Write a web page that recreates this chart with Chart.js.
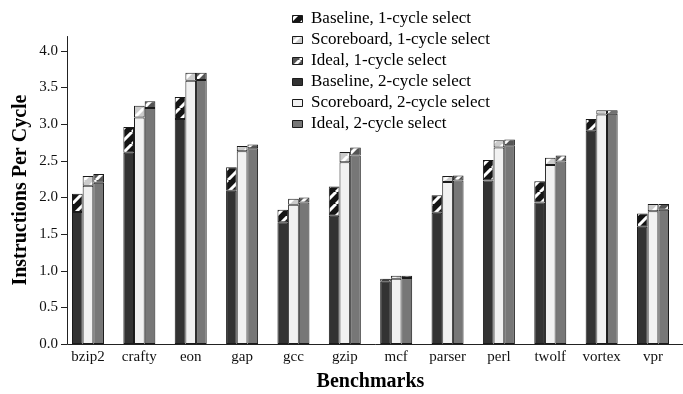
<!DOCTYPE html>
<html><head><meta charset="utf-8">
<script src="https://cdn.jsdelivr.net/npm/chart.js@4.4.0/dist/chart.umd.min.js"></script>
<style>html,body{margin:0;padding:0;background:#fff;} #wrap{width:683px;height:394px;position:relative}</style>
</head><body><div id="wrap"><canvas id="c" width="683" height="394"></canvas></div>
<script>
const benchmarks = ['bzip2','crafty','eon','gap','gcc','gzip','mcf','parser','perl','twolf','vortex','vpr'];
const baseline2   = [1.80,2.61,3.07,2.09,1.66,1.75,0.85,1.79,2.23,1.93,2.91,1.60];
const baseline1   = [2.05,2.96,3.37,2.41,1.83,2.15,0.89,2.03,2.51,2.22,3.07,1.78];
const scoreboard2 = [2.16,3.09,3.59,2.63,1.90,2.48,0.89,2.21,2.68,2.44,3.13,1.81];
const scoreboard1 = [2.29,3.25,3.70,2.70,1.98,2.62,0.93,2.29,2.78,2.54,3.19,1.91];
const ideal2      = [2.20,3.22,3.60,2.67,1.93,2.57,0.90,2.23,2.71,2.49,3.14,1.83];
const ideal1      = [2.32,3.31,3.70,2.72,2.00,2.68,0.93,2.30,2.79,2.57,3.19,1.91];
const yTicks = [0,0.5,1,1.5,2,2.5,3,3.5,4];

function hatch(color){
  const s = 12;
  const c = document.createElement('canvas'); c.width = s; c.height = s;
  const g = c.getContext('2d');
  g.fillStyle = color; g.fillRect(0,0,s,s);
  g.strokeStyle = '#ffffff'; g.lineWidth = 3;
  g.beginPath();
  for (const off of [-s,0,s]) { g.moveTo(off, s); g.lineTo(off + s, 0); }
  g.stroke();
  return g.createPattern(c,'repeat');
}
const diff = (top, bot) => top.map((v,i) => +(v - bot[i]).toFixed(3));
const serif = 'Liberation Serif, Times New Roman, serif';
const common = {borderColor:'#1a1a1a', borderWidth:1, borderSkipped:false, barPercentage:1, categoryPercentage:0.623};

const datasets = [
  {label:'Baseline, 2-cycle select',   data: baseline2, backgroundColor:'#333333', stack:'B', ...common},
  {label:'Baseline, 1-cycle select',   data: diff(baseline1, baseline2), backgroundColor: hatch('#141414'), stack:'B', ...common},
  {label:'Scoreboard, 2-cycle select', data: scoreboard2, backgroundColor:'#f1f1f1', stack:'S', ...common},
  {label:'Scoreboard, 1-cycle select', data: diff(scoreboard1, scoreboard2), backgroundColor: hatch('#cccccc'), stack:'S', ...common},
  {label:'Ideal, 2-cycle select',      data: ideal2, backgroundColor:'#777777', stack:'I', ...common},
  {label:'Ideal, 1-cycle select',      data: diff(ideal1, ideal2), backgroundColor: hatch('#555555'), stack:'I', ...common}
];
const legendRank = [3,0,4,1,5,2];

const axisPlugin = {
  id:'axisPlugin',
  afterLayout(chart){
    const lg = chart.legend;
    lg.left = 288.5; lg.right = 560; lg.top = 6.5; lg.bottom = 220;
  },
  afterDraw(chart){
    const ctx = chart.ctx, y = chart.scales.y, a = chart.chartArea;
    const ax = 67.5, by = Math.round(y.getPixelForValue(0)) + 0.5;
    ctx.save();
    ctx.strokeStyle = '#222'; ctx.lineWidth = 1;
    ctx.beginPath();
    ctx.moveTo(ax, a.top); ctx.lineTo(ax, by);
    ctx.moveTo(ax, by); ctx.lineTo(683, by);
    for (const v of yTicks) {
      const py = Math.round(y.getPixelForValue(v)) + 0.5;
      ctx.moveTo(61, py); ctx.lineTo(ax, py);
    }
    ctx.stroke();
    ctx.restore();
  }
};

new Chart(document.getElementById('c'), {
  type:'bar',
  data:{labels: benchmarks, datasets},
  plugins:[axisPlugin],
  options:{
    responsive:false, animation:false,
    layout:{padding:{top:36.1, right:4.3, left:0, bottom:0}},
    plugins:{
      legend:{position:'chartArea', align:'start',
        labels:{font:{family:serif, size:17}, color:'#000', boxWidth:10, boxHeight:7, padding:4,
          sort:(a,b) => legendRank[a.datasetIndex] - legendRank[b.datasetIndex]}},
      tooltip:{enabled:false}
    },
    scales:{
      x:{stacked:true, grid:{display:false, drawTicks:false}, border:{display:false},
         ticks:{font:{family:serif, size:15}, color:'#111', padding:4, maxRotation:0, autoSkip:false},
         title:{display:true, text:'Benchmarks', color:'#000', font:{family:serif, size:20, weight:'bold', lineHeight:1}, padding:{top:0, bottom:2}},
         afterFit(s){ s.height = 50; }},
      y:{stacked:true, min:0, max:4.2, grid:{display:false, drawTicks:false}, border:{display:false},
         afterBuildTicks(s){ s.ticks = yTicks.map(v => ({value:v})); },
         ticks:{font:{family:serif, size:15}, color:'#111', padding:4.3, callback:v => Number(v).toFixed(1)},
         title:{display:true, text:'Instructions Per Cycle', color:'#000', font:{family:serif, size:20, weight:'bold'}, padding:{top:9, bottom:0}},
         afterFit(s){ s.width = 62.3; }}
    }
  }
});
</script></body></html>
